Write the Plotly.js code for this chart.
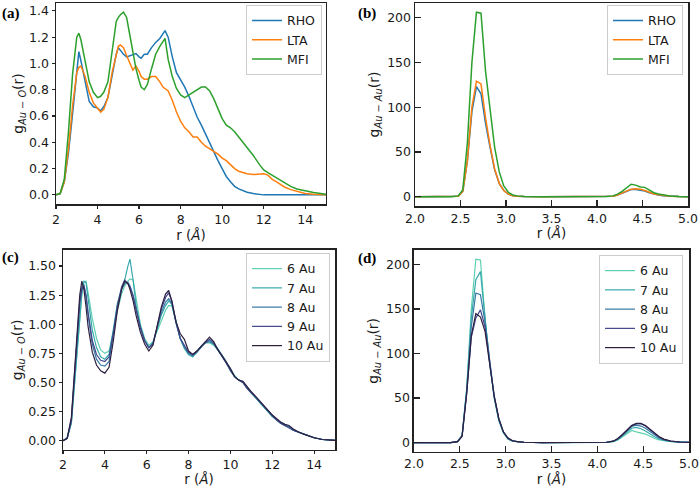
<!DOCTYPE html>
<html>
<head>
<meta charset="utf-8">
<script src="https://cdn.plot.ly/plotly-3.0.1.min.js"></script>
<style>html,body{margin:0;padding:0;background:#fff}#chart{width:700px;height:487px}</style>
</head>
<body>
<div id="chart"></div>
<script>
// ---- Panel (a): g_Au-O(r) by zeolite ----
const rA = [2.0,2.2,2.4,2.6,2.8,3.0,3.1,3.2,3.4,3.6,3.8,4.0,4.15,4.3,4.5,4.7,4.9,5.0,5.1,5.25,5.4,5.55,5.7,5.85,6.0,6.1,6.25,6.4,6.6,6.8,7.0,7.15,7.25,7.4,7.6,7.8,8.0,8.2,8.4,8.6,8.8,9.0,9.2,9.4,9.6,9.8,10.0,10.2,10.4,10.6,10.8,11.0,11.2,11.5,11.8,12.0,12.2,12.4,12.6,12.8,13.0,13.3,13.6,14.0,14.4,15.0];
const aRHO = [0,0.01,0.1,0.32,0.62,0.97,1.09,1.02,0.86,0.71,0.67,0.66,0.64,0.67,0.74,0.92,1.07,1.12,1.1,1.07,1.05,1.06,1.07,1.075,1.05,1.04,1.07,1.07,1.12,1.16,1.19,1.23,1.25,1.2,1.05,0.93,0.88,0.82,0.75,0.67,0.59,0.53,0.46,0.4,0.33,0.26,0.2,0.14,0.1,0.065,0.045,0.03,0.02,0.01,0.003,0,0,0,0,0,0,0,0,0,0,0];
const aLTA = [0,0.01,0.1,0.35,0.68,0.93,0.97,0.98,0.9,0.78,0.7,0.66,0.63,0.65,0.74,0.93,1.08,1.13,1.14,1.12,1.06,1.0,0.95,0.98,0.94,0.9,0.88,0.88,0.9,0.9,0.86,0.82,0.81,0.79,0.72,0.63,0.56,0.51,0.48,0.44,0.44,0.4,0.37,0.35,0.33,0.31,0.28,0.26,0.23,0.2,0.18,0.17,0.16,0.155,0.155,0.16,0.15,0.12,0.1,0.08,0.06,0.04,0.025,0.01,0.004,0];
const aMFI = [0,0.01,0.12,0.48,0.92,1.2,1.23,1.18,1.02,0.86,0.78,0.74,0.75,0.78,0.86,1.08,1.32,1.35,1.37,1.39,1.35,1.22,1.08,0.96,0.87,0.82,0.8,0.84,0.96,1.07,1.13,1.17,1.19,1.03,0.9,0.81,0.76,0.74,0.76,0.78,0.8,0.82,0.82,0.79,0.73,0.66,0.58,0.53,0.51,0.48,0.44,0.4,0.36,0.3,0.23,0.19,0.17,0.15,0.13,0.11,0.09,0.065,0.045,0.03,0.018,0.005];

// ---- Panels (b) and (d): g_Au-Au(r) ----
const rB = [2.0,2.4,2.475,2.525,2.575,2.625,2.675,2.725,2.775,2.825,2.875,2.925,2.975,3.025,3.075,3.125,3.2,3.4,3.6,3.8,4.0,4.1,4.175,4.225,4.275,4.325,4.375,4.425,4.475,4.525,4.575,4.625,4.675,4.725,4.8,4.9,5.0];
const bRHO = [0,0,0.5,6,40,95,123,115,82,55,30,15,7,3,1.2,0.6,0.2,0,0,0,0,0.1,0.7,2,4,6.5,8,8,7.5,6.5,4.5,3,2,1.2,0.6,0.2,0.05];
const bLTA = [0,0,0.5,6,40,100,129,126,88,57,31,15,7,3,1.2,0.6,0.2,0,0,0,0,0.1,0.7,2,4,6.5,8.5,9,8.5,7,5,3.2,2.2,1.4,0.7,0.25,0.05];
const bMFI = [0,0,1,8,60,150,206,205,140,95,55,28,12,5,2,1,0.3,0,0,0,0,0.2,1,3,6,10,14,13,11,10.5,7,4.5,3,2,1,0.4,0.1];

const d6 = [0,0,1,8,60,150,206,205,140,90,50,25,11,4,1.5,0.8,0.3,0,0,0,0,0.2,1,3,6.5,10,13.5,12,10.5,9.5,7,4.5,3,2,1,0.4,0.1];
const d7 = [0,0,1,8,60,140,183,192,140,90,50,25,11,4,1.5,0.8,0.3,0,0,0,0,0.2,1.2,3.5,7.5,12,16,17,15.5,13,9.5,6.5,4,2.5,1.2,0.4,0.1];
const d8 = [0,0,1,8,58,130,168,166,135,90,52,26,12,4.5,1.8,0.9,0.3,0,0,0,0,0.3,1.5,4,8.5,13.5,18,19.5,18.5,16,12,8,5,3,1.4,0.5,0.1];
const d9 = [0,0,1,7,55,118,140,149,130,90,52,27,12,5,2,1,0.3,0,0,0,0,0.3,1.5,4.5,9,14.5,19,21,21,18.5,14,9.5,6,3.5,1.6,0.5,0.1];
const d10 = [0,0,1,7,55,120,145,141,125,88,52,27,12,5,2,1,0.3,0,0,0,0,0.3,1.5,4.5,9,14.5,19,21.5,21.5,19,14.5,10,6.5,3.8,1.7,0.6,0.1];

// ---- Panel (c): g_Au-O(r) by cluster size ----
const rC = [2.0,2.2,2.4,2.6,2.8,2.9,3.0,3.1,3.2,3.4,3.6,3.8,4.0,4.2,4.4,4.6,4.8,4.95,5.1,5.2,5.35,5.5,5.7,5.9,6.1,6.3,6.5,6.7,6.9,7.05,7.2,7.4,7.6,7.8,8.0,8.2,8.4,8.6,8.8,9.0,9.2,9.4,9.6,9.8,10.0,10.2,10.4,10.6,10.8,11.0,11.2,11.4,11.6,11.8,12.0,12.2,12.4,12.6,12.8,13.0,13.3,13.6,14.0,14.4,15.0];
const c6 = [0,0.03,0.15,0.58,1.08,1.25,1.36,1.37,1.27,1.05,0.88,0.78,0.75,0.77,0.93,1.12,1.26,1.33,1.37,1.39,1.38,1.2,1.0,0.88,0.82,0.85,0.94,1.04,1.12,1.16,1.16,1.03,0.88,0.79,0.74,0.72,0.76,0.81,0.84,0.84,0.82,0.78,0.73,0.68,0.62,0.56,0.52,0.5,0.45,0.41,0.37,0.33,0.29,0.25,0.21,0.18,0.16,0.14,0.12,0.1,0.07,0.05,0.025,0.01,0.003];
const c7 = [0,0.02,0.15,0.6,1.1,1.27,1.37,1.36,1.22,0.95,0.8,0.72,0.7,0.74,0.95,1.18,1.3,1.38,1.5,1.56,1.38,1.15,0.98,0.86,0.8,0.84,0.96,1.08,1.16,1.2,1.17,1.02,0.88,0.8,0.74,0.72,0.76,0.81,0.85,0.86,0.83,0.79,0.74,0.68,0.61,0.55,0.52,0.5,0.45,0.41,0.37,0.33,0.29,0.25,0.21,0.18,0.155,0.14,0.12,0.09,0.07,0.05,0.025,0.01,0.003];
const c8 = [0,0.02,0.18,0.7,1.2,1.32,1.34,1.24,1.08,0.83,0.7,0.65,0.64,0.68,0.9,1.15,1.3,1.35,1.36,1.33,1.25,1.12,0.97,0.86,0.8,0.84,0.97,1.1,1.19,1.22,1.18,1.01,0.88,0.8,0.75,0.73,0.76,0.8,0.84,0.85,0.83,0.78,0.73,0.67,0.6,0.55,0.52,0.5,0.45,0.41,0.37,0.33,0.29,0.25,0.21,0.18,0.15,0.13,0.12,0.09,0.07,0.05,0.025,0.01,0.003];
const c9 = [0,0.02,0.17,0.68,1.18,1.3,1.33,1.25,1.1,0.86,0.74,0.69,0.68,0.72,0.92,1.16,1.32,1.38,1.35,1.32,1.24,1.12,0.97,0.86,0.8,0.83,0.97,1.13,1.23,1.27,1.2,1.02,0.88,0.82,0.76,0.74,0.77,0.81,0.84,0.87,0.84,0.78,0.72,0.67,0.61,0.55,0.52,0.5,0.45,0.41,0.38,0.34,0.3,0.26,0.22,0.18,0.15,0.13,0.11,0.09,0.07,0.05,0.025,0.01,0.003];
const c10 = [0,0.02,0.2,0.75,1.25,1.37,1.3,1.15,0.98,0.76,0.65,0.6,0.58,0.63,0.85,1.12,1.3,1.37,1.35,1.3,1.2,1.07,0.93,0.83,0.77,0.82,0.98,1.15,1.26,1.29,1.2,1.02,0.92,0.87,0.77,0.74,0.77,0.81,0.85,0.89,0.85,0.78,0.73,0.68,0.62,0.55,0.52,0.51,0.46,0.42,0.38,0.34,0.3,0.26,0.22,0.19,0.16,0.14,0.13,0.1,0.07,0.05,0.025,0.01,0.003];

const zeoNames = ['RHO','LTA','MFI'];
const zeoColors = ['#1f77b4','#ff7f0e','#2ca02c'];
const auNames = ['6 Au','7 Au','8 Au','9 Au','10 Au'];
const auColors = ['#5fd0b1','#37a9ad','#3679a4','#40468a','#2d1f40'];

const traces = [];
[aRHO,aLTA,aMFI].forEach((y,i)=>traces.push({x:rA,y:y,name:zeoNames[i],type:'scatter',mode:'lines',line:{color:zeoColors[i],width:1.5},xaxis:'x',yaxis:'y',legend:'legend'}));
[bRHO,bLTA,bMFI].forEach((y,i)=>traces.push({x:rB,y:y,name:zeoNames[i],type:'scatter',mode:'lines',line:{color:zeoColors[i],width:1.5},xaxis:'x2',yaxis:'y2',legend:'legend2'}));
[c6,c7,c8,c9,c10].forEach((y,i)=>traces.push({x:rC,y:y,name:auNames[i],type:'scatter',mode:'lines',line:{color:auColors[i],width:1.2},xaxis:'x3',yaxis:'y3',legend:'legend3'}));
[d6,d7,d8,d9,d10].forEach((y,i)=>traces.push({x:rB,y:y,name:auNames[i],type:'scatter',mode:'lines',line:{color:auColors[i],width:1.2},xaxis:'x4',yaxis:'y4',legend:'legend4'}));

const F = 'DejaVu Sans';
const tickFont = {family:F,size:12.5,color:'#1a1a1a'};
const titleFont = {family:F,size:14,color:'#1a1a1a'};
const xTitleFont = {family:F,size:13.5,color:'#1a1a1a'};
function ax(domain, range, extra){
  return Object.assign({domain:domain,range:range,showgrid:false,zeroline:false,showline:true,mirror:true,
    linecolor:'#222',linewidth:1.5,tickfont:tickFont,tickcolor:'#222',tickwidth:1.2},extra);
}
const xTitleTop = {text:'r (<i>Å</i>)',font:xTitleFont,standoff:3};
const xTitleBot = {text:'r (<i>Å</i>)',font:xTitleFont,standoff:5};
const legendBase = {font:{family:F,size:12.5,color:'#1a1a1a'},bgcolor:'rgba(255,255,255,0.85)',bordercolor:'#cccccc',borderwidth:1,xanchor:'right',yanchor:'top',tracegroupgap:0,itemwidth:30};

const layout = {
  width:700,height:487,margin:{l:0,r:0,t:0,b:0},paper_bgcolor:'#fff',plot_bgcolor:'#fff',showlegend:true,
  xaxis: ax([0.08,0.4657],[2,15],{anchor:'y',dtick:2,tick0:2,ticks:'outside',ticklen:3,title:xTitleTop}),
  yaxis: ax([0.5811,0.9938],[-0.0695,1.4595],{anchor:'x',dtick:0.2,tick0:0,tickformat:'.1f',ticks:'outside',ticklen:3,
    title:{text:'g<sub><i>Au − O</i></sub>(r)',font:titleFont,standoff:2}}),
  xaxis2: ax([0.5929,0.9829],[2,5],{anchor:'y2',dtick:0.5,tick0:2,tickformat:'.1f',ticks:'inside',ticklen:6,title:xTitleTop}),
  yaxis2: ax([0.577,0.9938],[-10.3,216.3],{anchor:'x2',dtick:50,tick0:0,ticks:'inside',ticklen:6,
    title:{text:'g<sub><i>Au − Au</i></sub>(r)',font:titleFont,standoff:4}}),
  xaxis3: ax([0.09,0.4786],[2,15],{anchor:'y3',dtick:2,tick0:2,ticks:'outside',ticklen:3,title:xTitleBot}),
  yaxis3: ax([0.0765,0.4867],[-0.078,1.638],{anchor:'x3',dtick:0.25,tick0:0,tickformat:'.2f',ticks:'outside',ticklen:3,
    title:{text:'g<sub><i>Au − O</i></sub>(r)',font:titleFont,standoff:2}}),
  xaxis4: ax([0.5914,0.9843],[2,5],{anchor:'y4',dtick:0.5,tick0:2,tickformat:'.1f',ticks:'inside',ticklen:6,title:xTitleBot}),
  yaxis4: ax([0.0725,0.4867],[-10.3,216.3],{anchor:'x4',dtick:50,tick0:0,ticks:'inside',ticklen:6,
    title:{text:'g<sub><i>Au − Au</i></sub>(r)',font:titleFont,standoff:4}}),
  legend: Object.assign({},legendBase,{x:0.46,y:0.99}),
  legend2: Object.assign({},legendBase,{x:0.9757,y:0.99}),
  legend3: Object.assign({},legendBase,{x:0.4714,y:0.4805}),
  legend4: Object.assign({},legendBase,{x:0.9757,y:0.4764}),
  annotations:[
    {text:'<b>(a)</b>',x:0.0,y:0.972,xref:'paper',yref:'paper',xanchor:'left',yanchor:'middle',showarrow:false,font:{family:'Liberation Serif',size:15,color:'#000'}},
    {text:'<b>(b)</b>',x:0.508,y:0.972,xref:'paper',yref:'paper',xanchor:'left',yanchor:'middle',showarrow:false,font:{family:'Liberation Serif',size:15,color:'#000'}},
    {text:'<b>(c)</b>',x:0.0,y:0.472,xref:'paper',yref:'paper',xanchor:'left',yanchor:'middle',showarrow:false,font:{family:'Liberation Serif',size:15,color:'#000'}},
    {text:'<b>(d)</b>',x:0.508,y:0.47,xref:'paper',yref:'paper',xanchor:'left',yanchor:'middle',showarrow:false,font:{family:'Liberation Serif',size:15,color:'#000'}}
  ]
};
Plotly.newPlot('chart',traces,layout,{staticPlot:true,displayModeBar:false});
</script>
</body>
</html>
